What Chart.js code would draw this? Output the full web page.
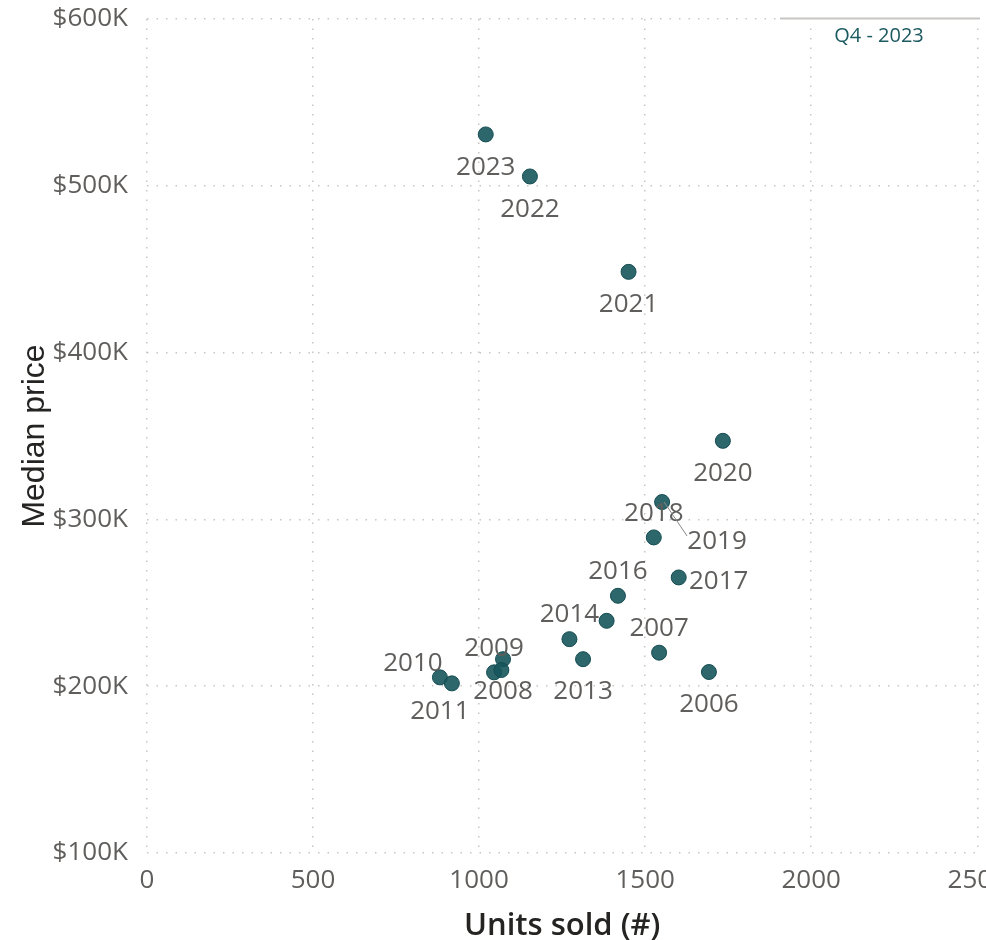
<!DOCTYPE html>
<html>
<head>
<meta charset="utf-8">
<script src="https://cdn.jsdelivr.net/npm/chart.js@4.4.1/dist/chart.umd.min.js"></script>
<style>
  html, body { margin: 0; padding: 0; background: #fff; overflow: hidden; }
  #wrap { position: relative; width: 1019px; height: 940px; }
</style>
</head>
<body>
<div id="wrap"><canvas id="scatterChart"></canvas></div>
<script>
// Median price vs units sold, one point per year
var years = [2006, 2007, 2008, 2009, 2010, 2011, 2012, 2013, 2014,
             2015, 2016, 2017, 2018, 2019, 2020, 2021, 2022, 2023];
var unitsSold = [1692, 1542, 1072, 1045, 882, 918, 1067, 1313, 1272,
                 1384, 1418, 1601, 1526, 1551, 1734, 1450, 1153, 1020];
var medianPrice = [208500, 220100, 216200, 208300, 205300, 201700, 209700, 216200, 228200,
                   239200, 254200, 265200, 289200, 310400, 347100, 448400, 505600, 530800];
var xTicks = [0, 500, 1000, 1500, 2000, 2500];
var yTicks = [100000, 200000, 300000, 400000, 500000, 600000];
var periodLabel = 'Q4 - 2023';

// where each year label sits (null = hidden, like the original)
var labelPlace = ['below', 'above', 'below', 'above', 'upleft', 'downleft', null, 'below', 'above',
                  null, 'above', 'right', 'above', 'leader', 'below', 'below', 'below', 'below'];

var placeOffsets = {
    below: [0, 31],
    above: [0, -26],
    right: [40, 2],
    upleft: [-27, -16],
    downleft: [-12, 26],
    leader: [55, 38]
};

var points = years.map(function(y, i) {
    return { x: unitsSold[i], y: medianPrice[i] };
});

var labelFont = '26px "Open Sans", sans-serif';
var greyText = '#605e5c';

var yearLabels = {
    id: 'yearLabels',
    afterDatasetsDraw: function(chart) {
        var ctx = chart.ctx;
        var meta = chart.getDatasetMeta(0);
        ctx.save();
        ctx.font = labelFont;
        ctx.fillStyle = greyText;
        ctx.textAlign = 'center';
        ctx.textBaseline = 'alphabetic';
        meta.data.forEach(function(pt, i) {
            var place = labelPlace[i];
            if (!place) return;
            var off = placeOffsets[place];
            var cx = pt.x + off[0];
            var cy = pt.y + off[1];
            if (place === 'leader') {
                ctx.strokeStyle = '#8a8886';
                ctx.lineWidth = 1;
                ctx.beginPath();
                ctx.moveTo(pt.x + 2, pt.y);
                ctx.lineTo(cx - 30, cy - 4);
                ctx.stroke();
            }
            ctx.fillText(String(years[i]), cx, cy + 9.3);
        });
        ctx.restore();
    }
};

// the period slicer that overlaps the top-right corner
var periodBox = {
    id: 'periodBox',
    afterDraw: function(chart) {
        var ctx = chart.ctx;
        ctx.save();
        ctx.fillStyle = '#fff';
        ctx.fillRect(780, 16, 240, 5);
        ctx.strokeStyle = '#c8c6c4';
        ctx.lineWidth = 2;
        ctx.beginPath();
        ctx.moveTo(780, 18.5);
        ctx.lineTo(980, 18.5);
        ctx.stroke();
        ctx.font = '20px "Open Sans", sans-serif';
        ctx.fillStyle = '#1b5a60';
        ctx.textAlign = 'center';
        ctx.textBaseline = 'alphabetic';
        ctx.fillText(periodLabel, 879, 42);
        ctx.restore();
    }
};

var gridColor = '#c8c6c4';
var tickFont = { family: '"Open Sans", sans-serif', size: 26 };

var ctx1 = document.getElementById('scatterChart').getContext('2d');
var scatterChart = new Chart(ctx1, {
    type: 'scatter',
    data: {
        datasets: [{
            label: 'Median price',
            data: points,
            backgroundColor: 'rgba(22, 86, 92, 0.9)',
            borderColor: '#134b50',
            borderWidth: 1,
            pointRadius: 7.5,
            pointHoverRadius: 7.5
        }]
    },
    options: {
        responsive: true,
        maintainAspectRatio: false,
        animation: false,
        layout: { padding: 0 },
        plugins: {
            legend: { display: false },
            tooltip: { enabled: false }
        },
        scales: {
            x: {
                type: 'linear',
                min: 0,
                max: 2500,
                afterBuildTicks: function(scale) {
                    scale.ticks = xTicks.map(function(v) { return { value: v }; });
                },
                afterFit: function(scale) { scale.height = 87; },
                grid: { color: gridColor, lineWidth: 1.5, drawTicks: false },
                border: { display: false, dash: [1.5, 8] },
                ticks: {
                    font: tickFont,
                    color: greyText,
                    padding: 12,
                    maxRotation: 0,
                    callback: function(v) { return String(v); }
                },
                title: {
                    display: true,
                    text: 'Units sold (#)',
                    color: '#252423',
                    font: { family: '"Open Sans", sans-serif', size: 31, weight: 600, lineHeight: 1 },
                    padding: { top: 0, bottom: -2 }
                }
            },
            y: {
                type: 'linear',
                min: 100000,
                max: 600000,
                afterBuildTicks: function(scale) {
                    scale.ticks = yTicks.map(function(v) { return { value: v }; });
                },
                afterFit: function(scale) {
                    scale.width = 147;
                    scale.paddingTop = 19;
                    scale.paddingBottom = 19;
                },
                grid: { color: gridColor, lineWidth: 1.5, drawTicks: false },
                border: { display: false, dash: [1.5, 8] },
                ticks: {
                    font: tickFont,
                    color: greyText,
                    padding: 19,
                    callback: function(v) { return '$' + (v / 1000) + 'K'; }
                },
                title: {
                    display: true,
                    text: 'Median price',
                    color: '#252423',
                    font: { family: '"Liberation Sans", Arial, sans-serif', size: 32, lineHeight: 1.2 },
                    padding: { top: 16, bottom: 0 }
                }
            }
        }
    },
    plugins: [yearLabels, periodBox]
});
</script>
</body>
</html>
